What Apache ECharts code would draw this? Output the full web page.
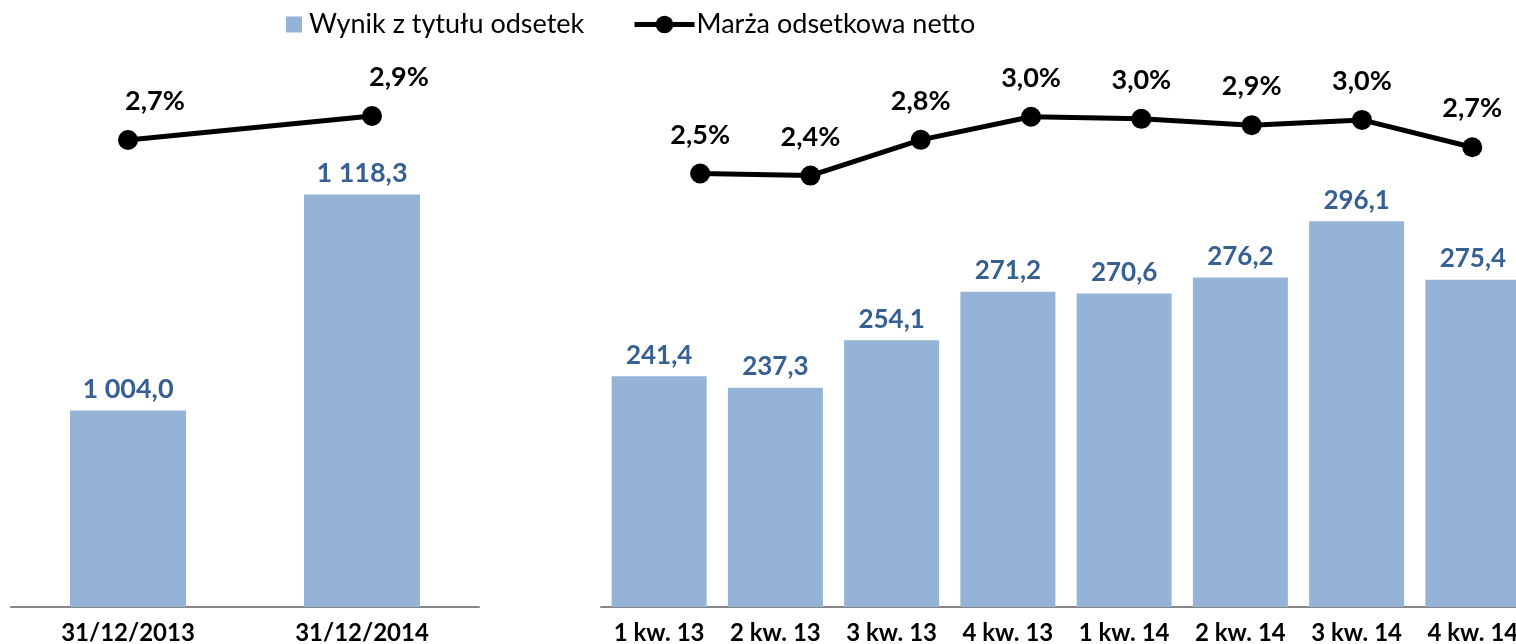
<!DOCTYPE html>
<html><head><meta charset="utf-8">
<script src="https://cdn.jsdelivr.net/npm/echarts@6/dist/echarts.min.js"></script>
<style>html,body{margin:0;padding:0;background:#fff}#c{width:1516px;height:644px}</style>
</head><body><div id="c"></div>
<script>
const annualCategories = ['31/12/2013', '31/12/2014'];
const annualInterest = [1004.0, 1118.3];
const annualMargin = [2.71, 2.92];
const quarterCategories = ['1 kw. 13', '2 kw. 13', '3 kw. 13', '4 kw. 13', '1 kw. 14', '2 kw. 14', '3 kw. 14', '4 kw. 14'];
const quarterInterest = [241.4, 237.3, 254.1, 271.2, 270.6, 276.2, 296.1, 275.4];
const quarterMargin = [2.46, 2.44, 2.78, 3.00, 2.98, 2.92, 2.97, 2.71];
const barName = 'Wynik z tytułu odsetek';
const lineName = 'Marża odsetkowa netto';

const FONT = 'Lato';
const BAR_COLOR = '#95B3D7';
const LABEL_BLUE = '#376092';

function fmtNum(v) {
  const s = v.toFixed(1).split('.');
  const i = s[0].replace(/\B(?=(\d{3})+(?!\d))/g, ' ');
  return i + ',' + s[1];
}
function fmtPct(v) {
  return v.toFixed(1).replace('.', ',') + '%';
}

const chart = echarts.init(document.getElementById('c'), null, {renderer: 'canvas'});

const catAxis = (idx, data, show) => ({
  type: 'category', gridIndex: idx, data: data, show: show,
  axisLine: {show: true, lineStyle: {color: '#868686', width: 2}},
  axisTick: {show: false},
  axisLabel: {show: true, interval: 0, hideOverlap: false, color: '#000', fontFamily: FONT, fontWeight: 'bold', fontSize: 24, margin: 14},
  splitLine: {show: false}
});
const valAxis = (idx, min, max) => ({
  type: 'value', gridIndex: idx, min: min, max: max, show: false,
  splitLine: {show: false}
});

const barSeries = (xi, data, width, fs) => ({
  name: barName, type: 'bar', xAxisIndex: xi, yAxisIndex: xi, data: data,
  barWidth: width, itemStyle: {color: BAR_COLOR},
  label: {show: true, position: 'top', distance: 8, color: LABEL_BLUE, fontFamily: FONT,
    fontWeight: 'bold', fontSize: fs, formatter: p => fmtNum(p.value)}
});
const lineSeries = (xi, data, offset) => ({
  name: lineName, type: 'line', xAxisIndex: xi, yAxisIndex: xi, data: data,
  symbol: 'circle', symbolSize: 20, color: '#000',
  lineStyle: {color: '#000', width: 5}, itemStyle: {color: '#000'},
  label: {show: true, position: 'top', distance: 15, offset: offset, color: '#000', fontFamily: FONT,
    fontWeight: 'bold', fontSize: 27, formatter: p => fmtPct(p.value)}
});

const gridBase = {top: 40, bottom: 37, outerBoundsMode: 'none', containLabel: false};

chart.setOption({
  animation: false,
  backgroundColor: '#fff',
  color: [BAR_COLOR, '#000'],
  legend: [
    {data: [barName], left: 281, top: 6, icon: 'rect', itemWidth: 16, itemHeight: 16, selectedMode: false,
      textStyle: {fontFamily: FONT, fontSize: 27, color: '#000', padding: [0, 0, 0, 2]}},
    {data: [lineName], left: 627, top: 6, itemWidth: 60, itemHeight: 22, selectedMode: false,
      lineStyle: {width: 5, color: '#000'}, itemStyle: {color: '#000'},
      textStyle: {fontFamily: FONT, fontSize: 27, color: '#000', padding: [0, 0, 0, -3]}}
  ],
  grid: [
    Object.assign({left: 11, width: 468}, gridBase),
    Object.assign({left: 6, width: 488}, gridBase),
    Object.assign({left: 601, width: 930}, gridBase),
    Object.assign({left: 645, width: 882.4}, gridBase)
  ],
  xAxis: [
    catAxis(0, annualCategories, true),
    catAxis(1, annualCategories, false),
    catAxis(2, quarterCategories, true),
    catAxis(3, quarterCategories, false)
  ],
  yAxis: [
    valAxis(0, 900, 1200),
    valAxis(1, -1.376, 3.585),
    valAxis(2, 160, 360),
    valAxis(3, -1.669, 3.731)
  ],
  series: [
    barSeries(0, annualInterest, 116, 27),
    lineSeries(1, annualMargin, [27, 0]),
    barSeries(2, quarterInterest, 95, 26),
    lineSeries(3, quarterMargin, [0, 0])
  ]
});
</script></body></html>
